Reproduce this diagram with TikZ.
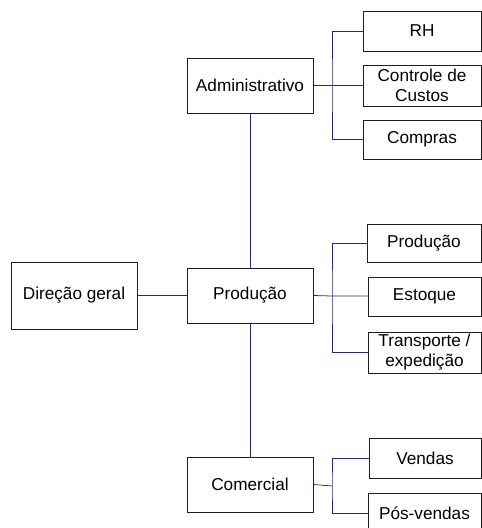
\documentclass[tikz,border=0pt]{standalone}
\usepackage{fontspec}
\setmainfont{Liberation Sans}
\definecolor{linknavy}{RGB}{36,36,150}
\definecolor{boxline}{RGB}{30,30,30}
\begin{document}
\begin{tikzpicture}[x=1pt,y=-1pt,
  unit/.style={draw=boxline,line width=0.8pt,fill=white,inner sep=1pt,align=center,
    font=\fontsize{17.2}{20}\selectfont},
  conn/.style={draw=linknavy,line width=0.75pt}]
\useasboundingbox[fill=white] (0,0) rectangle (482,528);

% main column
\node[unit,minimum width=126pt,minimum height=67pt] (dir) at (74,295.5) {Direção geral};
\node[unit,minimum width=126pt,minimum height=55pt] (adm) at (250,85.5) {Administrativo};
\node[unit,minimum width=126pt,minimum height=55pt] (prd) at (250,295.5) {Produção};
\node[unit,minimum width=126pt,minimum height=55pt] (com) at (250,484.5) {Comercial};

% administrative units
\node[unit,minimum width=118pt,minimum height=40pt] (rh)  at (422,31) {RH};
\node[unit,minimum width=118pt,minimum height=41pt] (ctl) at (422,85.5) {Controle de\\Custos};
\node[unit,minimum width=118pt,minimum height=39pt] (cmp) at (422,139.5) {Compras};

% production units
\node[unit,minimum width=114pt,minimum height=38pt] (pr2) at (424,243) {Produção};
\node[unit,minimum width=113pt,minimum height=39pt] (est) at (424.5,296.5) {Estoque};
\node[unit,minimum width=113pt,minimum height=41pt] (trn) at (424.5,352.5) {Transporte /\\expedição};

% commercial units
\node[unit,minimum width=112pt,minimum height=40pt] (ven) at (425,458) {Vendas};
\node[unit,minimum width=113pt,minimum height=40pt] (pos) at (424.5,513) {Pós-vendas};

% junction points of the branches
\coordinate (ja) at (332,85.5);
\coordinate (jp) at (332,296);
\coordinate (jc) at (332,486);

% trunk
\draw[conn] (dir.east) -- (prd.west);
\draw[conn] (adm.south) -- (prd.north);
\draw[conn] (prd.south) -- (com.north);

% administrative branch
\draw[conn] (adm.east) -- (ja) -- (ctl.west);
\draw[conn] (rh.west) -| (ja) |- (cmp.west);

% production branch
\draw[conn] (prd.east) -- (jp) -- (jp -| est.west);
\draw[conn] (pr2.west) -| (jp) |- (trn.west);

% commercial branch
\draw[conn] (com.east) -- (jc);
\draw[conn] (ven.west) -| (jc) |- (pos.west);
\end{tikzpicture}
\end{document}
